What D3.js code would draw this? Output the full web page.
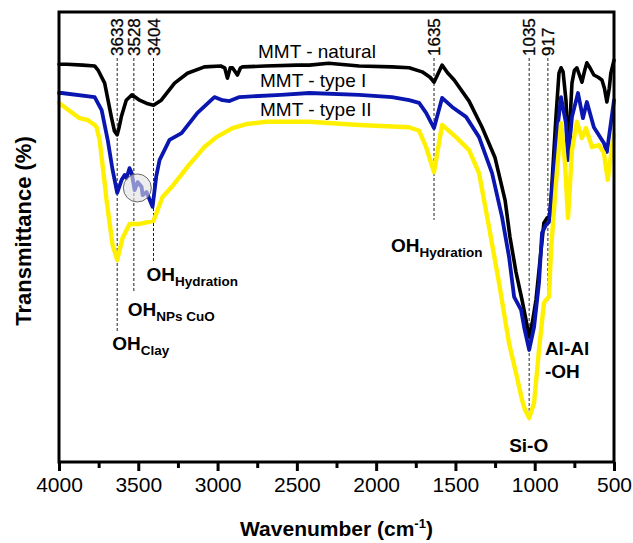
<!DOCTYPE html>
<html>
<head>
<meta charset="utf-8">
<script src="https://cdn.jsdelivr.net/npm/d3@7/dist/d3.min.js"></script>
<style>
  body { margin: 0; background: #fff; }
  svg { font-family: "Liberation Sans", Arial, sans-serif; }
</style>
</head>
<body>
<svg id="chart" width="633" height="543"></svg>
<script>
// spectra: [wavenumber, transmittance (a.u.)]
const natural = [[4000,88.4],[3950,88.4],[3850,88.2],[3775,88.0],[3754,87.1],[3712,84.2],[3670,76.7],[3650,73.5],[3633,72.7],[3620,74.5],[3607,76.7],[3576,80.4],[3540,81.6],[3492,80.4],[3440,79.6],[3404,79.3],[3355,80.4],[3271,84.2],[3190,86.4],[3083,87.8],[2980,88.0],[2955,87.6],[2938,85.3],[2920,87.6],[2906,87.6],[2875,86.0],[2855,87.6],[2843,87.8],[2700,88.0],[2500,88.2],[2421,88.2],[2300,88.6],[2107,88.0],[1900,87.8],[1792,87.6],[1710,86.7],[1660,85.5],[1635,84.4],[1600,87.0],[1584,88.2],[1550,86.5],[1508,84.9],[1414,80.2],[1332,74.4],[1250,67.6],[1187,58.2],[1156,50.0],[1118,42.2],[1080,36.0],[1055,31.6],[1035,27.8],[1015,31.0],[992,36.0],[960,47.1],[942,53.1],[923,54.2],[904,54.6],[891,62.0],[866,76.7],[847,86.4],[834,87.6],[821,86.7],[803,80.4],[790,70.0],[777,76.0],[765,84.2],[750,87.0],[734,87.6],[718,86.0],[702,84.4],[685,87.0],[671,88.7],[650,87.5],[627,86.0],[600,85.5],[576,84.9],[560,83.0],[545,80.0],[530,83.0],[520,86.4],[500,89.3]];

const typeI = [[4000,82.0],[3983,82.0],[3775,81.1],[3731,78.2],[3693,71.6],[3662,64.9],[3633,59.8],[3605,62.7],[3586,63.8],[3574,63.1],[3555,65.3],[3542,64.2],[3523,60.4],[3504,62.2],[3479,61.1],[3473,59.3],[3448,60.0],[3410,56.7],[3387,63.4],[3366,67.1],[3303,71.6],[3227,73.1],[3127,77.6],[3020,81.1],[2969,80.4],[2925,80.2],[2862,81.1],[2600,81.6],[2421,82.0],[2107,81.6],[1900,81.1],[1792,80.4],[1729,79.8],[1685,77.6],[1635,74.2],[1584,80.9],[1521,78.9],[1433,76.7],[1351,72.2],[1269,64.2],[1206,54.4],[1162,45.6],[1130,36.7],[1086,33.8],[1067,30.0],[1035,24.9],[1004,30.0],[973,39.8],[954,50.9],[929,52.7],[910,53.3],[891,60.4],[860,73.1],[834,81.1],[803,75.3],[790,67.1],[765,76.7],[727,82.0],[696,76.4],[671,80.0],[627,74.4],[564,70.9],[545,68.9],[520,75.3],[500,80.4]];

const typeII = [[4000,79.8],[3870,76.4],[3819,76.0],[3775,74.9],[3763,74.4],[3744,71.6],[3712,62.0],[3700,58.2],[3662,48.2],[3633,44.9],[3599,49.8],[3555,52.9],[3492,52.9],[3404,53.6],[3378,56.0],[3347,58.9],[3290,61.1],[3240,63.3],[3190,65.6],[3114,68.7],[3083,70.0],[3007,72.2],[2906,74.2],[2818,75.1],[2692,75.6],[2421,75.6],[2107,74.9],[1792,74.4],[1729,73.6],[1685,70.0],[1635,64.4],[1584,74.9],[1496,72.2],[1414,69.3],[1351,64.2],[1288,52.2],[1225,39.8],[1162,26.4],[1112,18.9],[1080,13.8],[1061,11.6],[1035,9.8],[1004,13.1],[973,24.9],[942,35.3],[929,36.0],[910,36.7],[897,47.1],[866,62.0],[834,75.3],[809,66.4],[790,54.2],[765,69.3],[734,75.6],[702,72.0],[677,74.2],[639,70.0],[595,70.4],[564,68.7],[539,62.7],[513,70.0],[500,72.7]];

const seriesNames = ["MMT - natural", "MMT - type I", "MMT - type II"];
const seriesColors = ["#000000", "#0a16b0", "#fff000"];
const seriesWidths = [3.6, 3.8, 4.4];
const majorTicks = [4000, 3500, 3000, 2500, 2000, 1500, 1000, 500];
const minorTicks = [3750, 3250, 2750, 2250, 1750, 1250, 750];

// marked bands: wavenumber, lower end of the dashed guide (a.u.)
const bandWn = [3633, 3528, 3404, 1635, 1035, 917];
const bandEnd = [28.9, 37.6, 44.2, 53.8, 9.3, 35.3];

const svg = d3.select("#chart");
const m = {left: 59, top: 12, right: 614, bottom: 462};

const x = d3.scaleLinear().domain([4000, 500]).range([m.left, m.right]);
const y = d3.scaleLinear().domain([0, 100]).range([m.bottom, m.top]);

const line = d3.line()
  .x(d => x(d[0]))
  .y(d => y(d[1]));

// dashed guides
bandWn.forEach((wn, i) => {
  svg.append("line")
    .attr("x1", x(wn)).attr("x2", x(wn))
    .attr("y1", 58).attr("y2", y(bandEnd[i]))
    .attr("stroke", "#222").attr("stroke-width", 1)
    .attr("stroke-dasharray", "3,2");
  svg.append("text")
    .attr("transform", "translate(" + (x(wn) + 6) + ",56) rotate(-90)")
    .attr("font-size", 17)
    .attr("stroke", "#000").attr("stroke-width", 0.3)
    .text(wn);
});

// spectra
[natural, typeI, typeII].forEach((s, i) => {
  svg.append("path")
    .datum(s)
    .attr("fill", "none")
    .attr("stroke", seriesColors[i])
    .attr("stroke-width", seriesWidths[i])
    .attr("stroke-linejoin", "round")
    .attr("stroke-linecap", "round")
    .attr("d", line);
});

// highlight circle over the CuO band
svg.append("circle")
  .attr("cx", x(3506)).attr("cy", y(60.9)).attr("r", 14)
  .attr("fill", "rgba(225,225,225,0.6)")
  .attr("stroke", "#666").attr("stroke-width", 1);

// series labels
const labelY = [58, 87, 116];
seriesNames.forEach((n, i) => {
  svg.append("text")
    .attr("x", i == 0 ? 258 : 260).attr("y", labelY[i])
    .attr("font-size", 19)
    .text(n);
});

// band labels
function subLabel(px, py, main, sub) {
  const t = svg.append("text").attr("x", px).attr("y", py)
    .attr("font-size", 19).attr("font-weight", "bold");
  t.append("tspan").text(main);
  if (sub) t.append("tspan").attr("font-size", 13.5).attr("dy", 5).text(sub);
}
subLabel(x(3633) - 5, 350, "OH", "Clay");
subLabel(x(3528) - 6, 316, "OH", "NPs CuO");
subLabel(x(3404) - 7, 281, "OH", "Hydration");
subLabel(x(1635) - 43, 252, "OH", "Hydration");
subLabel(x(1035) - 20, 452, "Si-O");
subLabel(x(917) - 3, 355, "Al-Al");
subLabel(x(917) - 3, 378, "-OH");

// frame
svg.append("rect")
  .attr("x", m.left).attr("y", m.top)
  .attr("width", m.right - m.left).attr("height", m.bottom - m.top)
  .attr("fill", "none").attr("stroke", "#000").attr("stroke-width", 3);

// x axis
const ax = svg.append("g")
  .attr("transform", "translate(0," + m.bottom + ")")
  .call(d3.axisBottom(x).tickValues(majorTicks).tickSize(9).tickPadding(6).tickFormat(d3.format("d")));
ax.select(".domain").remove();
ax.selectAll(".tick line").attr("stroke-width", 3);
ax.selectAll("text").attr("font-size", 21).attr("font-family", "Liberation Sans, Arial, sans-serif").attr("fill", "#000");

const axm = svg.append("g")
  .attr("transform", "translate(0," + m.bottom + ")")
  .call(d3.axisBottom(x).tickValues(minorTicks).tickSize(6).tickFormat(""));
axm.select(".domain").remove();
axm.selectAll(".tick line").attr("stroke-width", 3);

// axis titles
const xt = svg.append("text")
  .attr("x", (m.left + m.right) / 2).attr("y", 536)
  .attr("text-anchor", "middle")
  .attr("font-size", 21).attr("font-weight", "bold");
xt.append("tspan").text("Wavenumber (cm");
xt.append("tspan").attr("font-size", 13).attr("dy", -8).text("-1");
xt.append("tspan").attr("dy", 8).text(")");

svg.append("text")
  .attr("transform", "translate(31,231) rotate(-90)")
  .attr("text-anchor", "middle")
  .attr("font-size", 22).attr("font-weight", "bold")
  .text("Transmittance (%)");
</script>
</body>
</html>
